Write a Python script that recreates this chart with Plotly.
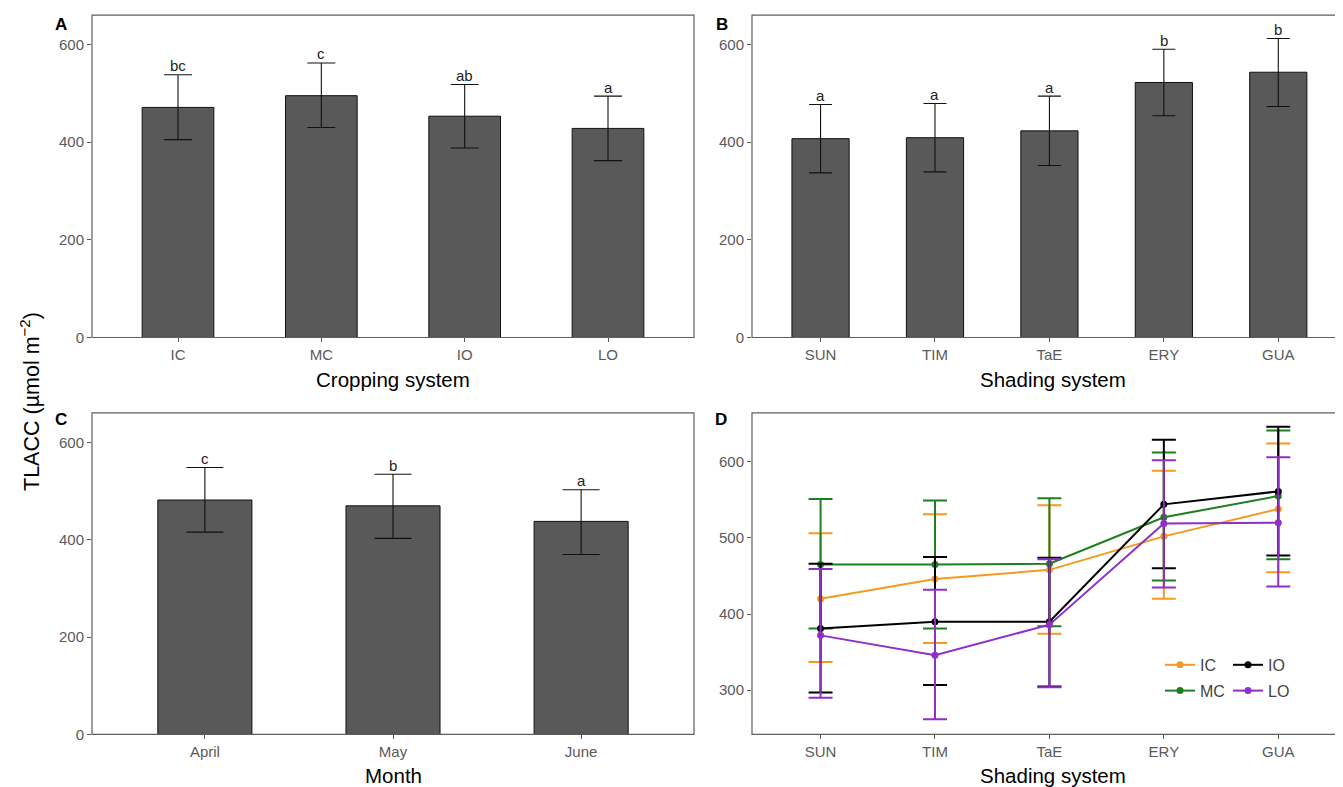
import plotly.graph_objects as go

# ---------------- data ----------------
crop_cats = ["IC", "MC", "IO", "LO"]
crop_mean = [471, 495, 453, 428]
crop_upper = [538, 562, 518, 494]
crop_lower = [405, 430, 388, 362]
crop_letters = ["bc", "c", "ab", "a"]

shade_cats = ["SUN", "TIM", "TaE", "ERY", "GUA"]
shade_mean = [407, 409, 423, 522, 543]
shade_upper = [477, 479, 494, 590, 612]
shade_lower = [337, 339, 352, 454, 473]
shade_letters = ["a", "a", "a", "b", "b"]

month_cats = ["April", "May", "June"]
month_mean = [482, 470, 438]
month_upper = [549, 535, 503]
month_lower = [416, 403, 370]
month_letters = ["c", "b", "a"]

groups = ["IC", "MC", "IO", "LO"]
group_colors = {"IC": "#F39A1F", "MC": "#1E7F1E", "IO": "#000000", "LO": "#8E2FC8"}
inter_mean = {
    "IC": [420, 446, 458, 502, 538],
    "MC": [465, 465, 466, 527, 555],
    "IO": [381, 390, 390, 544, 561],
    "LO": [372, 346, 386, 519, 520],
}
inter_upper = {
    "IC": [506, 531, 543, 588, 624],
    "MC": [551, 549, 552, 612, 641],
    "IO": [466, 475, 474, 629, 646],
    "LO": [459, 432, 472, 602, 606],
}
inter_lower = {
    "IC": [337, 362, 374, 420, 455],
    "MC": [381, 381, 384, 444, 472],
    "IO": [297, 307, 305, 460, 477],
    "LO": [290, 262, 304, 435, 436],
}

# ---------------- layout geometry ----------------
OFF = 8                      # page body margin
SY = 0.99                    # observed vertical scale of the capture
W = 1343 - 2 * OFF
H = int(round(787 / SY - 2 * OFF))
FONT = "Liberation Sans, Arial, sans-serif"
TICK_COLOR = "#5a5a5a"
BORDER = "#5f5f5f"


def px_x(p):
    return (p - OFF) / W


def px_y(p):
    return 1 - (p / SY - OFF) / H


panels = {
    "A": dict(x=(92, 694), y=(15, 337.5)),
    "B": dict(x=(752, 1343), y=(15, 337.5)),
    "C": dict(x=(92, 694), y=(413, 734.5)),
    "D": dict(x=(752, 1343), y=(413, 734.5)),
}

fig = go.Figure()


def err(mean, upper, lower):
    return dict(
        type="data",
        symmetric=False,
        array=[u - m for u, m in zip(upper, mean)],
        arrayminus=[m - l for m, l in zip(mean, lower)],
    )


def add_bar_panel(cats, mean, upper, lower, letters, xa, ya, cap):
    fig.add_trace(
        go.Bar(
            x=cats,
            y=mean,
            width=0.5,
            marker=dict(color="#595959", line=dict(color="#111111", width=1)),
            error_y=dict(**err(mean, upper, lower), color="#111111", thickness=1.1, width=cap),
            xaxis=xa,
            yaxis=ya,
            showlegend=False,
        )
    )
    for c, u, t in zip(cats, upper, letters):
        fig.add_annotation(
            x=c, y=u, xref=xa, yref=ya, text=t, showarrow=False,
            yanchor="middle", yshift=9,
            font=dict(family=FONT, size=15, color="#222222"),
        )


add_bar_panel(crop_cats, crop_mean, crop_upper, crop_lower, crop_letters, "x", "y", 14)
add_bar_panel(shade_cats, shade_mean, shade_upper, shade_lower, shade_letters, "x2", "y2", 11.5)
add_bar_panel(month_cats, month_mean, month_upper, month_lower, month_letters, "x3", "y3", 18.5)

for g in groups:
    col = group_colors[g]
    fig.add_trace(
        go.Scatter(
            x=shade_cats,
            y=inter_mean[g],
            mode="lines+markers",
            name=g,
            line=dict(color=col, width=2),
            marker=dict(color=col, size=7),
            error_y=dict(**err(inter_mean[g], inter_upper[g], inter_lower[g]), color=col, thickness=2, width=12),
            xaxis="x4",
            yaxis="y4",
            legend="legend" if g in ("IC", "MC") else "legend2",
            legendgroup=g,
        )
    )

axis_common = dict(
    showgrid=False, zeroline=False, showline=False,
    ticks="outside", ticklen=4, tickwidth=1, tickcolor=TICK_COLOR,
    tickfont=dict(family=FONT, size=15, color=TICK_COLOR),
)

ranges_x = {
    "A": [-0.6, 3.6],
    "B": [-(821.5 - 752) / 116, (1343 - 821.5) / 116],
    "C": [-0.6, 2.6],
    "D": [-(821.5 - 752) / 116, (1343 - 821.5) / 116],
}
ranges_y = {"A": [0, 660], "B": [0, 660], "C": [0, 661], "D": [242, 664]}
ticks_y = {"A": [0, 200, 400, 600], "B": [0, 200, 400, 600], "C": [0, 200, 400, 600], "D": [300, 400, 500, 600]}

for i, key in enumerate(["A", "B", "C", "D"]):
    suffix = "" if i == 0 else str(i + 1)
    p = panels[key]
    fig.layout["xaxis" + suffix] = dict(
        axis_common,
        domain=[px_x(p["x"][0]), min(1.0, px_x(p["x"][1]))],
        range=ranges_x[key],
        anchor="y" + suffix,
        type="category",
    )
    fig.layout["yaxis" + suffix] = dict(
        axis_common,
        domain=[px_y(p["y"][1]), px_y(p["y"][0])],
        range=ranges_y[key],
        anchor="x" + suffix,
        tickvals=ticks_y[key],
    )
    # panel border (right side of B/D runs past the page edge, as in the reference)
    fig.add_shape(
        type="rect", xref="paper", yref="paper",
        x0=px_x(p["x"][0]), x1=px_x(p["x"][1] + 12 if p["x"][1] >= 1343 else p["x"][1]),
        y0=px_y(p["y"][1]), y1=px_y(p["y"][0]),
        line=dict(color=BORDER, width=1.2), fillcolor="rgba(0,0,0,0)", layer="above",
    )

# panel letters
for key, (lx, ly) in {"A": (61, 24), "B": (722, 24), "C": (61, 420), "D": (721, 420)}.items():
    fig.add_annotation(
        x=px_x(lx), y=px_y(ly), xref="paper", yref="paper", text="<b>%s</b>" % key,
        showarrow=False, xanchor="center", yanchor="middle",
        font=dict(family=FONT, size=17, color="#000000"),
    )

# axis titles
titles = [
    ("Cropping system", (92 + 694) / 2, 380),
    ("Shading system", (752 + 1354) / 2, 380),
    ("Month", (92 + 694) / 2, 776),
    ("Shading system", (752 + 1354) / 2, 776),
]
for t, tx, ty in titles:
    fig.add_annotation(
        x=px_x(tx), y=px_y(ty), xref="paper", yref="paper", text=t, showarrow=False,
        xanchor="center", yanchor="middle",
        font=dict(family=FONT, size=20.5, color="#000000"),
    )

fig.add_annotation(
    x=px_x(30), y=px_y(402), xref="paper", yref="paper",
    text="TLACC (µmol m<sup>−2</sup>)", textangle=-90, showarrow=False,
    xanchor="center", yanchor="middle",
    font=dict(family=FONT, size=21.5, color="#000000"),
)

legend_common = dict(
    bgcolor="rgba(0,0,0,0)", borderwidth=0,
    font=dict(family=FONT, size=16, color="#444444"),
    traceorder="grouped", tracegroupgap=2, itemwidth=30,
    xanchor="left", yanchor="top", orientation="v",
)
fig.update_layout(
    width=W, height=H,
    margin=dict(l=0, r=0, t=0, b=0),
    paper_bgcolor="white", plot_bgcolor="white",
    font=dict(family=FONT),
    legend=dict(legend_common, x=px_x(1160), y=px_y(648)),
    legend2=dict(legend_common, x=px_x(1228), y=px_y(648)),
    showlegend=True,
)

fig.write_html("out.html")
